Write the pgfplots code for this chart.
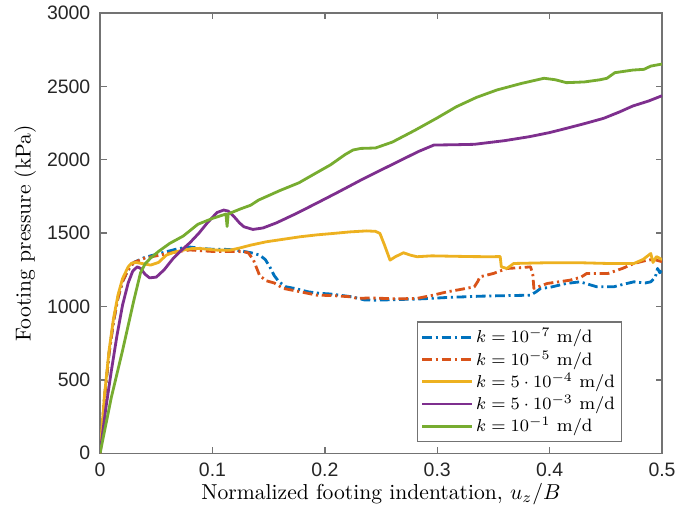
\documentclass[border=0pt]{standalone}
\usepackage{fontspec}
\usepackage{pgfplots}
\pgfplotsset{compat=1.18}
\newfontfamily\tickfont{Liberation Sans}
\definecolor{mblue}{rgb}{0,0.447,0.741}
\definecolor{morange}{rgb}{0.85,0.325,0.098}
\definecolor{myellow}{rgb}{0.929,0.694,0.125}
\definecolor{mpurple}{rgb}{0.494,0.184,0.556}
\definecolor{mgreen}{rgb}{0.466,0.674,0.188}
\definecolor{axgray}{rgb}{0.45,0.45,0.45}
\begin{document}
\begin{tikzpicture}
\begin{axis}[
  scale only axis,
  width=260pt, height=203.7pt,
  xmin=0, xmax=0.5, ymin=0, ymax=3000,
  xtick={0,0.1,0.2,0.3,0.4,0.5},
  xticklabels={0,0.1,0.2,0.3,0.4,0.5},
  ytick={0,500,1000,1500,2000,2500,3000},
  yticklabels={0,500,1000,1500,2000,2500,3000},
  tick align=inside,
  major tick length=3pt,
  axis line style={axgray, line width=0.6pt},
  every tick/.style={axgray, line width=0.6pt},
  tick label style={font=\tickfont\fontsize{9}{10}\selectfont, text=black!85},
  xticklabel style={yshift=-1pt},
  yticklabel style={xshift=-1pt},
  xlabel={Normalized footing indentation, $u_z/B$},
  ylabel={Footing pressure (kPa)},
  label style={font=\fontsize{10}{12}\selectfont, text=black!85},
  every axis x label/.style={at={(axis description cs:0.5,-0.092)}, anchor=center},
  every axis y label/.style={at={(axis description cs:-0.133,0.5)}, rotate=90, anchor=center},
  legend style={at={(0.929,0.025)}, anchor=south east, draw=axgray, line width=0.6pt, fill=white,
    font=\fontsize{8.3}{10}\selectfont, inner sep=1.5pt, row sep=-0.9pt,
    nodes={inner sep=1.5pt}},
  legend cell align=left,
  legend image code/.code={\draw[#1] (0cm,0cm) -- (0.8cm,0cm);},
  every axis plot/.append style={line width=1.3pt, line join=round},
  clip=true,
]
% k = 1e-7
\addplot[mblue, dash pattern=on 4.5pt off 1.7pt on 1pt off 1.7pt] coordinates {
(0,0) (0.004,380) (0.008,680) (0.012,900) (0.016,1060) (0.020,1170) (0.025,1250) (0.030,1300)
(0.040,1335) (0.050,1355) (0.060,1375) (0.070,1395) (0.080,1405) (0.090,1395) (0.100,1390)
(0.110,1390) (0.120,1385) (0.128,1375) (0.135,1365) (0.142,1350) (0.147,1320) (0.151,1270)
(0.155,1210) (0.159,1170) (0.165,1135) (0.175,1120) (0.185,1100) (0.195,1090) (0.205,1085)
(0.215,1075) (0.225,1065) (0.235,1045) (0.245,1043) (0.255,1045) (0.267,1048) (0.280,1050)
(0.294,1055) (0.310,1062) (0.325,1066) (0.338,1070) (0.355,1073) (0.370,1075) (0.383,1077)
(0.388,1100) (0.392,1123) (0.400,1130) (0.415,1157) (0.427,1168) (0.435,1150) (0.442,1134)
(0.457,1134) (0.465,1150) (0.475,1168) (0.485,1160) (0.490,1168) (0.494,1200) (0.496,1259)
(0.498,1230) (0.500,1250)
};
\addlegendentry{$k = 10^{-7}\ \mathrm{m/d}$}
% k = 1e-5
\addplot[morange, dash pattern=on 4.5pt off 1.7pt on 1pt off 1.7pt] coordinates {
(0,0) (0.004,380) (0.008,680) (0.012,900) (0.016,1060) (0.020,1170) (0.025,1250) (0.030,1300)
(0.040,1330) (0.050,1345) (0.060,1360) (0.070,1375) (0.080,1385) (0.090,1380) (0.100,1375)
(0.110,1375) (0.120,1375) (0.128,1373) (0.132,1365) (0.1365,1316) (0.142,1210) (0.148,1175)
(0.155,1160) (0.163,1123) (0.175,1105) (0.193,1077) (0.205,1075) (0.215,1070) (0.223,1066)
(0.229,1055) (0.240,1058) (0.252,1055) (0.265,1052) (0.282,1055) (0.295,1075) (0.309,1100)
(0.320,1115) (0.333,1134) (0.336,1170) (0.338,1202) (0.350,1225) (0.362,1259) (0.375,1265)
(0.383,1270) (0.385,1220) (0.386,1123) (0.398,1157) (0.418,1179) (0.428,1200) (0.433,1225)
(0.452,1225) (0.465,1260) (0.475,1293) (0.487,1316) (0.493,1320) (0.500,1305)
};
\addlegendentry{$k = 10^{-5}\ \mathrm{m/d}$}
% k = 5e-4
\addplot[myellow] coordinates {
(0,0) (0.004,400) (0.008,700) (0.012,920) (0.016,1080) (0.020,1190) (0.025,1270) (0.028,1295)
(0.032,1300) (0.037,1293) (0.045,1282) (0.052,1300) (0.059,1350) (0.066,1370) (0.074,1384)
(0.082,1395) (0.089,1395) (0.096,1390) (0.104,1384) (0.116,1384) (0.125,1400) (0.134,1418)
(0.148,1441) (0.163,1458) (0.178,1475) (0.193,1488) (0.208,1498) (0.222,1508) (0.237,1515)
(0.245,1512) (0.249,1498) (0.253,1420) (0.258,1316) (0.263,1340) (0.270,1366) (0.276,1350)
(0.282,1339) (0.295,1345) (0.309,1343) (0.330,1340) (0.347,1339) (0.356,1340) (0.357,1270)
(0.362,1259) (0.368,1293) (0.380,1295) (0.398,1298) (0.427,1298) (0.452,1293) (0.475,1293)
(0.483,1320) (0.490,1361) (0.492,1300) (0.495,1340) (0.500,1320)
};
\addlegendentry{$k = 5\cdot 10^{-4}\ \mathrm{m/d}$}
% k = 5e-3
\addplot[mpurple] coordinates {
(0,0) (0.005,300) (0.010,560) (0.015,800) (0.020,1010) (0.025,1160) (0.029,1240) (0.033,1270)
(0.036,1260) (0.040,1220) (0.044,1195) (0.050,1200) (0.057,1250) (0.065,1327) (0.072,1380)
(0.080,1435) (0.088,1500) (0.095,1566) (0.104,1640) (0.110,1657) (0.114,1650) (0.119,1614)
(0.124,1570) (0.128,1543) (0.136,1525) (0.145,1535) (0.157,1570) (0.175,1635) (0.193,1705)
(0.212,1780) (0.232,1861) (0.250,1930) (0.268,1998) (0.283,2055) (0.297,2100) (0.315,2102)
(0.333,2105) (0.360,2130) (0.382,2157) (0.400,2185) (0.415,2214) (0.432,2248) (0.448,2282)
(0.462,2325) (0.474,2366) (0.488,2400) (0.500,2436)
};
\addlegendentry{$k = 5\cdot 10^{-3}\ \mathrm{m/d}$}
% k = 1e-1
\addplot[mgreen] coordinates {
(0,0) (0.010,380) (0.020,700) (0.030,1040) (0.036,1230) (0.040,1290) (0.045,1330) (0.052,1375)
(0.062,1430) (0.074,1480) (0.087,1560) (0.100,1600) (0.110,1625) (0.112,1630) (0.113,1545)
(0.114,1630) (0.117,1640) (0.125,1665) (0.134,1690) (0.141,1725) (0.160,1790) (0.177,1843)
(0.190,1900) (0.205,1965) (0.218,2035) (0.225,2066) (0.232,2077) (0.245,2080) (0.260,2120)
(0.280,2200) (0.300,2285) (0.317,2361) (0.335,2425) (0.353,2475) (0.375,2520) (0.395,2555)
(0.405,2545) (0.415,2525) (0.431,2530) (0.445,2545) (0.451,2555) (0.458,2593) (0.474,2611)
(0.484,2616) (0.490,2638) (0.500,2652)
};
\addlegendentry{$k = 10^{-1}\ \mathrm{m/d}$}
\end{axis}
\pgfresetboundingbox
\path ([xshift=-46.3pt,yshift=-30.1pt]current axis.south west) rectangle ([xshift=6pt,yshift=6pt]current axis.north east);
\end{tikzpicture}
\end{document}
